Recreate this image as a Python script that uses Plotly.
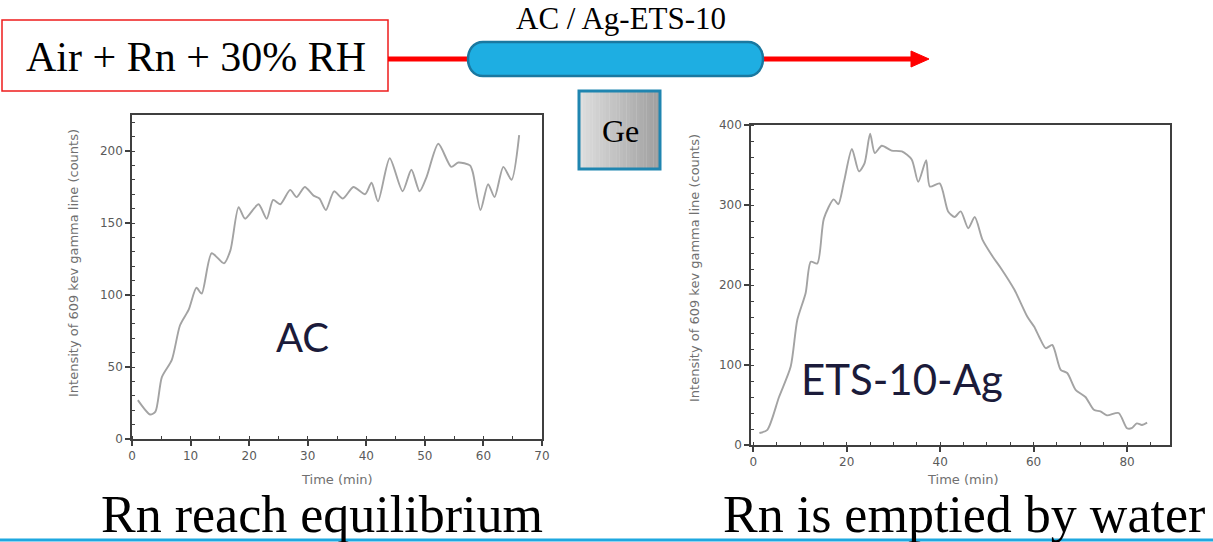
import plotly.graph_objects as go

W, H = 1213, 542

# ---- data ----
ac_time = [1, 3.1, 4, 5.1, 6.8, 8.2, 9.7, 11, 11.9, 13.6, 15.7, 16.8, 18.2, 19.3, 21.6, 23, 24.1, 25.3,
           27, 28.1, 29.5, 31, 32, 33.1, 34.5, 36, 37.8, 39.8, 40.9, 42, 44, 46.2, 47.7, 49.1, 50.3,
           52.3, 54.5, 55.7, 57.7, 58.2, 59.5, 60.8, 61.9, 63.4, 64.8, 66.1]
ac_counts = [27, 17, 19, 43, 55, 79, 90, 105, 101, 129, 122, 131, 161, 153, 163, 153, 166, 163,
             173, 168, 175, 169, 167, 159, 172, 167, 175, 170, 178, 165, 195, 172, 187, 172, 182,
             205, 189, 192, 190, 185, 159, 177, 168, 189, 180, 211]

ets_time = [1.3, 3, 5.5, 8, 9.4, 11.2, 12.3, 13.7, 15.1, 17.2, 18.2, 19.4, 21.1, 22.6, 23.8, 25, 26,
            27.5, 29.6, 31.8, 33.9, 35.3, 37, 37.8, 39.9, 41.7, 43.1, 44.4, 46, 47.4, 49.1, 51.3, 53,
            55.9, 58.7, 60.1, 61.2, 62.6, 64, 65.8, 67.2, 69, 71.1, 72.9, 74.3, 75.7, 78.2, 80, 81,
            82.1, 83.2, 84.3]
ets_counts = [15, 19, 60, 98, 156, 190, 229, 227, 283, 307, 301, 329, 370, 342, 352, 389, 365,
              374, 368, 367, 357, 329, 356, 323, 327, 292, 285, 292, 271, 285, 256, 235, 221,
              194, 160, 148, 135, 121, 125, 94, 90, 69, 60, 44, 42, 37, 40, 21, 21,
              27, 25, 28]

ac_yticks = [0, 50, 100, 150, 200]
ac_xticks = [0, 10, 20, 30, 40, 50, 60, 70]
ets_yticks = [0, 100, 200, 300, 400]
ets_xticks = [0, 20, 40, 60, 80]


def X(px):
    return px / W


def Y(py):
    return 1 - py / H


fig = go.Figure()
line_style = dict(color="#a3a3a3", width=1.9, shape="spline", smoothing=0.7)
fig.add_trace(go.Scatter(x=ac_time, y=ac_counts, mode="lines", line=line_style,
                         xaxis="x", yaxis="y", showlegend=False))
fig.add_trace(go.Scatter(x=ets_time, y=ets_counts, mode="lines", line=line_style,
                         xaxis="x2", yaxis="y2", showlegend=False))

axis_common = dict(showgrid=False, zeroline=False, showline=True, linecolor="#3f3f3f",
                   linewidth=1.5, mirror=True, ticks="outside", ticklen=5, tickcolor="#3f3f3f",
                   tickwidth=1.5, automargin=False,
                   tickfont=dict(family="DejaVu Sans", size=12, color="#5a5a5a"),
                   minor=dict(ticks="inside", ticklen=3, tickcolor="#3f3f3f", tickwidth=1.3))

fig.update_layout(
    width=W, height=H, margin=dict(l=0, r=0, t=0, b=0, autoexpand=False),
    paper_bgcolor="white", plot_bgcolor="white",
    xaxis=dict(domain=[X(132), X(542)], range=[0, 70], tickvals=ac_xticks, anchor="y", **axis_common),
    yaxis=dict(domain=[Y(439), Y(115)], range=[0, 225], tickvals=ac_yticks, anchor="x", **axis_common),
    xaxis2=dict(domain=[X(751), X(1170)], range=[-0.5, 89.2], tickvals=ets_xticks, anchor="y2", **axis_common),
    yaxis2=dict(domain=[Y(445), Y(125)], range=[0, 400], tickvals=ets_yticks, anchor="x2", **axis_common),
)

shapes = []
annots = []


def note(text, x, y, font, angle=0):
    annots.append(dict(text=text, x=X(x), y=Y(y), xref="paper", yref="paper", showarrow=False,
                       xanchor="center", yanchor="middle", textangle=angle, font=font))


# red feed box
shapes.append(dict(type="rect", xref="paper", yref="paper", x0=X(2), x1=X(388), y0=Y(91), y1=Y(20),
                   line=dict(color="#ee1c1c", width=1.5), fillcolor="white"))
note("Air + Rn + 30% RH", 196, 57, dict(family="Liberation Serif", size=42, color="black"))
# red lines
shapes.append(dict(type="line", xref="paper", yref="paper", x0=X(388), x1=X(470), y0=Y(59), y1=Y(59),
                   line=dict(color="#ff0000", width=5)))
shapes.append(dict(type="line", xref="paper", yref="paper", x0=X(760), x1=X(914), y0=Y(59), y1=Y(59),
                   line=dict(color="#ff0000", width=5)))
shapes.append(dict(type="path", xref="paper", yref="paper",
                   path=f"M {X(911)} {Y(51)} L {X(929)} {Y(59)} L {X(911)} {Y(67)} Z",
                   fillcolor="#ff0000", line=dict(color="#ff0000", width=1)))
# capsule
r = 15
k = r * 4 / 3
cx0, cx1, top, bot = 468 + r, 763 - r, 42, 76
path = (f"M {X(cx0)} {Y(top)} L {X(cx1)} {Y(top)} "
        f"C {X(cx1 + k)} {Y(top)} {X(cx1 + k)} {Y(bot)} {X(cx1)} {Y(bot)} "
        f"L {X(cx0)} {Y(bot)} "
        f"C {X(cx0 - k)} {Y(bot)} {X(cx0 - k)} {Y(top)} {X(cx0)} {Y(top)} Z")
shapes.append(dict(type="path", xref="paper", yref="paper", path=path,
                   fillcolor="#1eaee2", line=dict(color="#1a78a0", width=2.5)))
note("AC / Ag-ETS-10", 621, 19, dict(family="Liberation Serif", size=31, color="black"))
# Ge detector box with gradient
gx0, gx1, gy0, gy1 = 579, 660, 91, 169
n = 24
for i in range(n):
    t = i / (n - 1)
    g = int(222 - t * (222 - 160))
    shapes.append(dict(type="rect", xref="paper", yref="paper",
                       x0=X(gx0 + (gx1 - gx0) * i / n), x1=X(gx0 + (gx1 - gx0) * (i + 1) / n + 0.3),
                       y0=Y(gy1), y1=Y(gy0), line=dict(width=0), fillcolor=f"rgb({g},{g},{g})"))
shapes.append(dict(type="rect", xref="paper", yref="paper", x0=X(gx0), x1=X(gx1), y0=Y(gy1), y1=Y(gy0),
                   line=dict(color="#1f85b0", width=3)))
note("Ge", 620, 131, dict(family="Liberation Serif", size=32, color="black"))

# axis titles
ytitle = "Intensity of 609 kev gamma line (counts)"
axfont = dict(family="DejaVu Sans", size=13, color="#707070")
note(ytitle, 73, 263, axfont, -90)
note(ytitle, 694, 268, axfont, -90)
note("Time (min)", 337, 479, axfont)
note("Time (min)", 963, 479, axfont)

# in-plot labels
note("AC", 302, 337, dict(family="Lato", size=40, color="#1b1b3a"))
note("ETS-10-Ag", 902, 379, dict(family="Lato", size=42, color="#1b1b3a"))

# bottom captions
note("Rn reach equilibrium", 322, 514, dict(family="Liberation Serif", size=52, color="black"))
note("Rn is emptied by water", 964, 514, dict(family="Liberation Serif", size=52, color="black"))
shapes.append(dict(type="line", xref="paper", yref="paper", x0=0, x1=1, y0=Y(540), y1=Y(540),
                   line=dict(color="#1ea8e0", width=3)))

fig.update_layout(shapes=shapes, annotations=annots)
fig.write_html("out.html", config={"displayModeBar": False},
               post_script="document.body.style.margin='0';document.body.style.overflow='hidden';")
